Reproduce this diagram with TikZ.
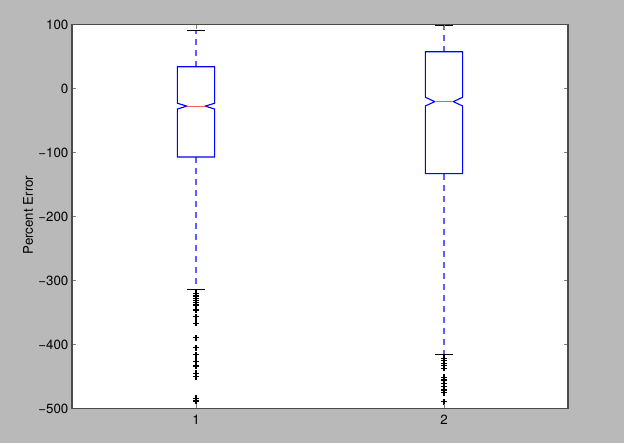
\documentclass[tikz,border=0pt]{standalone}
\usepackage{fontspec}
\setmainfont{TeX Gyre Heros}

\definecolor{bggray}{RGB}{185,185,185}
\definecolor{framegray}{RGB}{75,75,75}
\definecolor{whiskerblue}{RGB}{95,95,255}
\definecolor{medianred}{RGB}{255,90,90}

\tikzset{
  boxline/.style={draw=blue, line width=1.1pt, line join=miter},
  whiskerline/.style={draw=whiskerblue, line width=1.5pt, dash pattern=on 6pt off 5pt},
  capline/.style={black, line width=1pt},
  medianline/.style={medianred, line width=1.1pt},
  flierline/.style={black, line width=1.2pt},
  tickmark/.style={gray, line width=0.9pt},
  ticklabel/.style={font=\fontsize{13.3}{16}\selectfont, inner sep=0pt},
}

\begin{document}
\begin{tikzpicture}[x=248pt, y=0.64pt]
        % background and axes area
        \fill[bggray] (0.2097,-553.9) rectangle (2.7258,138.3);
        \useasboundingbox (0.2097,-553.9) rectangle (2.7258,138.3);
        \fill[white] (0.5,-500) rectangle (2.5,100);

        % draw the boxes
        \foreach \x/\qa/\qc/\md/\nl/\nh/\wl/\wh in
          {1/-107/34/-27.5/-32/-23/-314/91, 2/-133/57.5/-20.5/-27.3/-13.7/-416/98.7}
        {
          \draw[whiskerline] (\x,\qc) -- (\x,\wh);
          \draw[whiskerline] (\x,\qa) -- (\x,\wl);
          \draw[capline] (\x-0.0375,\wh) -- (\x+0.0375,\wh);
          \draw[capline] (\x-0.0375,\wl) -- (\x+0.0375,\wl);
          \draw[boxline] (\x-0.075,\qc) -- (\x+0.075,\qc) -- (\x+0.075,\nh)
            -- (\x+0.0375,\md) -- (\x+0.075,\nl) -- (\x+0.075,\qa)
            -- (\x-0.075,\qa) -- (\x-0.075,\nl) -- (\x-0.0375,\md)
            -- (\x-0.075,\nh) -- cycle;
          \draw[medianline] (\x-0.0375,\md) -- (\x+0.0375,\md);
        }

        % outliers
        \foreach \y in {-320,-324.2,-328.4,-331.6,-334.7,-338.3,-346.1,-356.6,-366.9,
                        -389.4,-405,-416,-426.3,-433.6,-445,-450.3,-484,-488.3}
        \draw[flierline] (1,\y) ++(-3pt,0) -- ++(6pt,0) (1,\y) ++(0,-3pt) -- ++(0,6pt);
        \foreach \y in {-421.6,-425.3,-429.4,-433.1,-437.2,-451.3,-455.5,-460.6,
                        -465.9,-471.1,-475.3,-489.4}
        \draw[flierline] (2,\y) ++(-3pt,0) -- ++(6pt,0) (2,\y) ++(0,-3pt) -- ++(0,6pt);

        % ticks and tick labels
        \foreach \y/\lab [count=\i] in {100/100, 0/0, -100/−100, -200/−200,
                                       -300/−300, -400/−400, -500/−500}
        {
          \draw[tickmark] (0.5,\y) -- ++(4.5pt,0);
          \draw[tickmark] (2.5,\y) -- ++(-4.5pt,0);
          \node[ticklabel, anchor=east] (ylab\i) at ([xshift=-3.5pt]0.5,\y) {\lab};
        }
        \foreach \x in {1,2}
        {
          \draw[tickmark] (\x,-500) -- ++(0,4.5pt);
          \draw[tickmark] (\x,100) -- ++(0,-4.5pt);
          \node[ticklabel, anchor=north] (xlab\x) at ([yshift=-6.5pt]\x,-500) {\x};
        }

        \node[ticklabel, rotate=90, anchor=base] (ylabel) at (0.3427,-197.7) {Percent Error};

        % frame
        \draw[framegray, line width=1.2pt] (0.5,-500) rectangle (2.5,100);
    \end{tikzpicture}
\end{document}
